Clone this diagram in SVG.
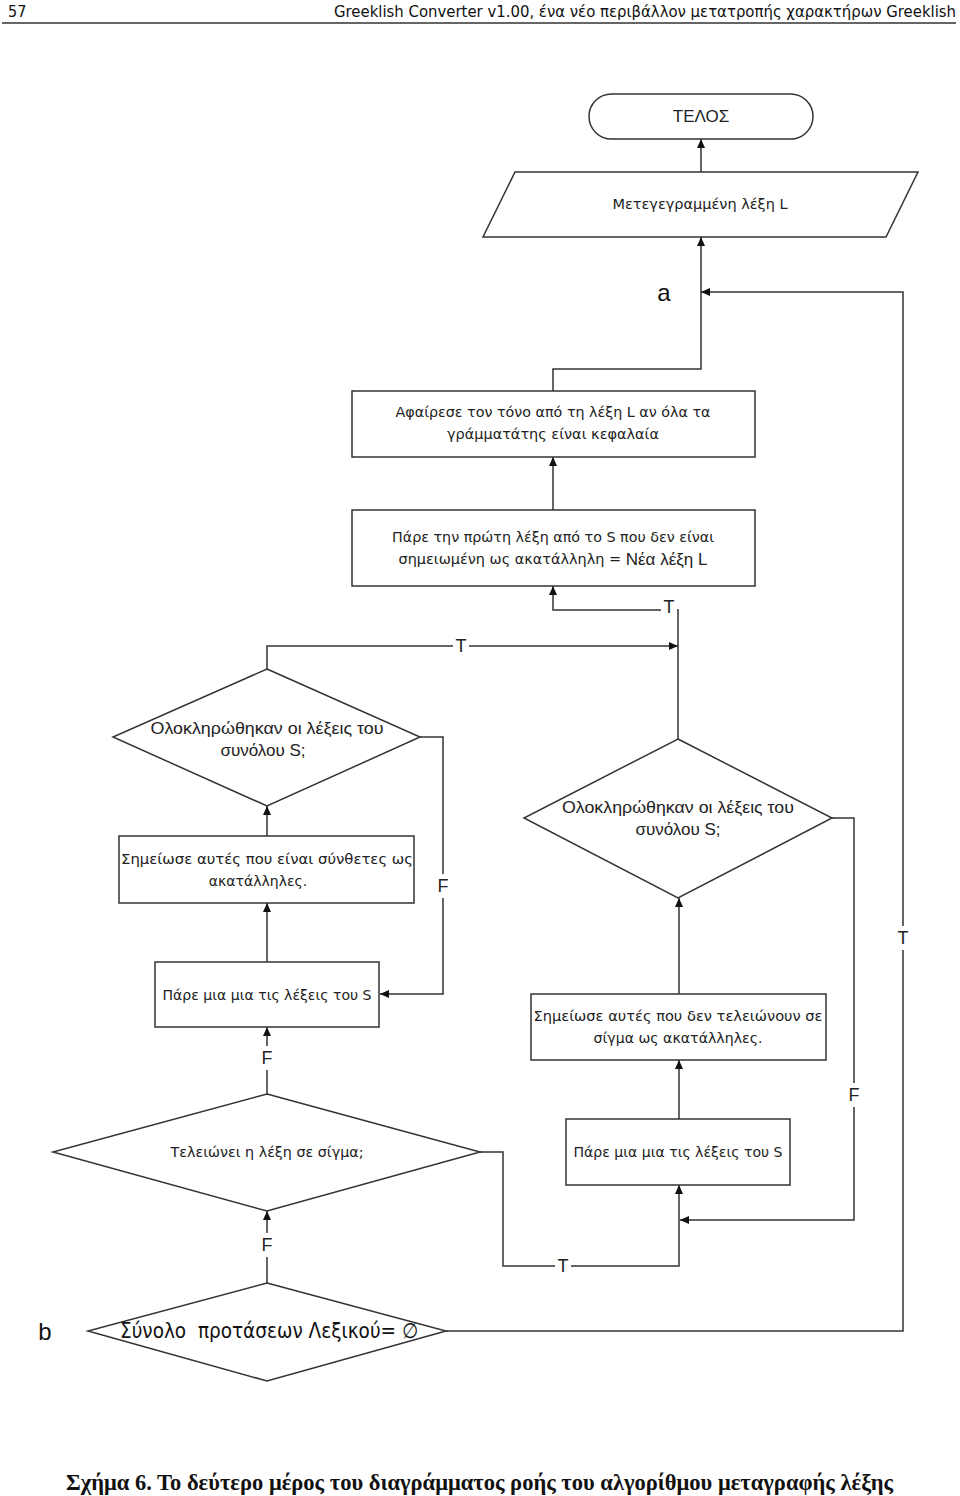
<svg xmlns="http://www.w3.org/2000/svg" width="960" height="1496" viewBox="0 0 960 1496">
<style>
.shape{fill:#fff;stroke:#333;stroke-width:1.5}
.conn{fill:none;stroke:#333;stroke-width:1.5}
.t{font-family:"DejaVu Sans","Noto Sans",sans-serif;font-size:14px;fill:#222;text-anchor:middle;dominant-baseline:central}
.ta{font-family:"Liberation Sans",Arial,sans-serif;font-size:17px;fill:#222;text-anchor:middle;dominant-baseline:central}
.lbl{font-family:"Liberation Sans",Arial,sans-serif;font-size:18px;fill:#222;text-anchor:middle;dominant-baseline:central}
.gap{fill:#fff;stroke:none}
.big{font-family:"Liberation Sans",Arial,sans-serif;font-size:24px;fill:#111;text-anchor:middle;dominant-baseline:central}
</style>
<defs>
<marker id="arr" markerWidth="9" markerHeight="8" refX="9" refY="4" orient="auto" markerUnits="userSpaceOnUse">
<path d="M0,0 L9,4 L0,8 z" fill="#111"/>
</marker>
</defs>
<rect width="960" height="1496" fill="#fff"/>
<g id="header">
<text x="8" y="17" font-family="DejaVu Sans Condensed,DejaVu Sans,sans-serif" font-size="16" fill="#111">57</text>
<text x="956" y="17" font-family="DejaVu Sans Condensed,DejaVu Sans,sans-serif" font-size="16" fill="#111" text-anchor="end" textLength="622" lengthAdjust="spacingAndGlyphs">Greeklish Converter v1.00, ένα νέο περιβάλλον μετατροπής χαρακτήρων Greeklish</text>
<line x1="2" y1="23" x2="956" y2="23" stroke="#333" stroke-width="1.5"/>
</g>
<g id="connectors">
<path class="conn" d="M701,172 V139" marker-end="url(#arr)"/>
<path class="conn" d="M553,391 V369 H701 V237" marker-end="url(#arr)"/>
<path class="conn" d="M446,1331 H903 V292 H701" marker-end="url(#arr)"/>
<path class="conn" d="M553,510 V457" marker-end="url(#arr)"/>
<path class="conn" d="M678,739 V610 H553 V586" marker-end="url(#arr)"/>
<path class="conn" d="M267,669 V646 H678" marker-end="url(#arr)"/>
<path class="conn" d="M420,737 H443 V994 H380" marker-end="url(#arr)"/>
<path class="conn" d="M267,836 V806" marker-end="url(#arr)"/>
<path class="conn" d="M267,962 V903" marker-end="url(#arr)"/>
<path class="conn" d="M267,1094 V1027" marker-end="url(#arr)"/>
<path class="conn" d="M267,1283 V1211" marker-end="url(#arr)"/>
<path class="conn" d="M480,1152 H503 V1266 H679 V1185" marker-end="url(#arr)"/>
<path class="conn" d="M832,818 H854 V1220 H680" marker-end="url(#arr)"/>
<path class="conn" d="M679,1119 V1060" marker-end="url(#arr)"/>
<path class="conn" d="M679,994 V898" marker-end="url(#arr)"/>
<rect class="gap" x="897" y="926" width="12" height="24"/>
<rect class="gap" x="661" y="600" width="16" height="16"/>
<rect class="gap" x="453" y="640" width="16" height="12"/>
<rect class="gap" x="437" y="874" width="12" height="24"/>
<rect class="gap" x="261" y="1046" width="12" height="24"/>
<rect class="gap" x="261" y="1233" width="12" height="24"/>
<rect class="gap" x="555" y="1260" width="16" height="12"/>
<rect class="gap" x="848" y="1083" width="12" height="24"/>
<text class="lbl" x="903" y="938">T</text>
<text class="lbl" x="669" y="607">T</text>
<text class="lbl" x="461" y="646">T</text>
<text class="lbl" x="443" y="886">F</text>
<text class="lbl" x="267" y="1058">F</text>
<text class="lbl" x="267" y="1245">F</text>
<text class="lbl" x="563" y="1266">T</text>
<text class="lbl" x="854" y="1095">F</text>
</g>
<g id="end">
<rect class="shape" x="589" y="94" width="224" height="45" rx="22.5"/>
<text class="ta" x="701" y="116">ΤΕΛΟΣ</text>
</g>
<g id="output">
<polygon class="shape" points="515,172 918,172 886,237 483,237"/>
<text class="t" x="700" y="204" textLength="175" lengthAdjust="spacingAndGlyphs">Μετεγεγραμμένη λέξη L</text>
</g>
<g id="label-a"><text class="big" x="664" y="292">a</text></g>
<g id="remove-accent">
<rect class="shape" x="352" y="391" width="403" height="66"/>
<text class="t" x="553" y="412" textLength="315" lengthAdjust="spacingAndGlyphs">Αφαίρεσε τον τόνο από τη λέξη L αν όλα τα</text>
<text class="t" x="553" y="434" textLength="212" lengthAdjust="spacingAndGlyphs">γράμματάτης είναι κεφαλαία</text>
</g>
<g id="take-first">
<rect class="shape" x="352" y="510" width="403" height="76"/>
<text class="t" x="553" y="537" textLength="322" lengthAdjust="spacingAndGlyphs">Πάρε την πρώτη λέξη από το S που δεν είναι</text>
<text class="t" x="553" y="559" textLength="309" lengthAdjust="spacingAndGlyphs">σημειωμένη ως ακατάλληλη = <tspan font-family="Liberation Sans,Arial,sans-serif" font-size="16.5">Νέα λέξη L</tspan></text>
</g>
<g id="decision-left">
<polygon class="shape" points="267,669 420,737 267,806 113,737"/>
<text class="ta" x="267" y="728" textLength="233" lengthAdjust="spacingAndGlyphs">Ολοκληρώθηκαν οι λέξεις του</text>
<text class="ta" x="263" y="750">συνόλου S;</text>
</g>
<g id="mark-compound">
<rect class="shape" x="119" y="836" width="295" height="67"/>
<text class="t" x="267" y="859" textLength="292" lengthAdjust="spacingAndGlyphs">Σημείωσε αυτές που είναι σύνθετες ως</text>
<text class="t" x="258" y="881">ακατάλληλες.</text>
</g>
<g id="take-each-left">
<rect class="shape" x="155" y="962" width="224" height="65"/>
<text class="t" x="267" y="995" textLength="209" lengthAdjust="spacingAndGlyphs">Πάρε μια μια τις λέξεις του S</text>
</g>
<g id="decision-sigma">
<polygon class="shape" points="267,1094 480,1152 267,1211 53,1152"/>
<text class="t" x="267" y="1152" textLength="193" lengthAdjust="spacingAndGlyphs">Τελειώνει η λέξη σε σίγμα;</text>
</g>
<g id="decision-right">
<polygon class="shape" points="678,739 832,818 678,898 524,818"/>
<text class="ta" x="678" y="807" textLength="232" lengthAdjust="spacingAndGlyphs">Ολοκληρώθηκαν οι λέξεις του</text>
<text class="ta" x="678" y="829">συνόλου S;</text>
</g>
<g id="mark-no-sigma">
<rect class="shape" x="531" y="994" width="295" height="66"/>
<text class="t" x="678" y="1016" textLength="289" lengthAdjust="spacingAndGlyphs">Σημείωσε αυτές που δεν τελειώνουν σε</text>
<text class="t" x="678" y="1038" textLength="169" lengthAdjust="spacingAndGlyphs">σίγμα ως ακατάλληλες.</text>
</g>
<g id="take-each-right">
<rect class="shape" x="566" y="1119" width="224" height="66"/>
<text class="t" x="678" y="1152" textLength="209" lengthAdjust="spacingAndGlyphs">Πάρε μια μια τις λέξεις του S</text>
</g>
<g id="decision-empty">
<polygon class="shape" points="267,1283 446,1331 267,1381 88,1331"/>
<text x="120" y="1331" font-family="Liberation Sans Narrow,DejaVu Sans Condensed,sans-serif" font-size="21" fill="#111" dominant-baseline="central" textLength="298" lengthAdjust="spacingAndGlyphs">Σύνολο&#160; προτάσεων Λεξικού= ∅</text>
</g>
<g id="label-b"><text class="big" x="45" y="1331">b</text></g>
<g id="caption">
<text x="66" y="1490" font-family="Liberation Serif,Times New Roman,serif" font-size="23" font-weight="bold" fill="#111" textLength="827" lengthAdjust="spacingAndGlyphs">Σχήμα 6. Το δεύτερο μέρος του διαγράμματος ροής του αλγορίθμου μεταγραφής λέξης</text>
</g>
</svg>
